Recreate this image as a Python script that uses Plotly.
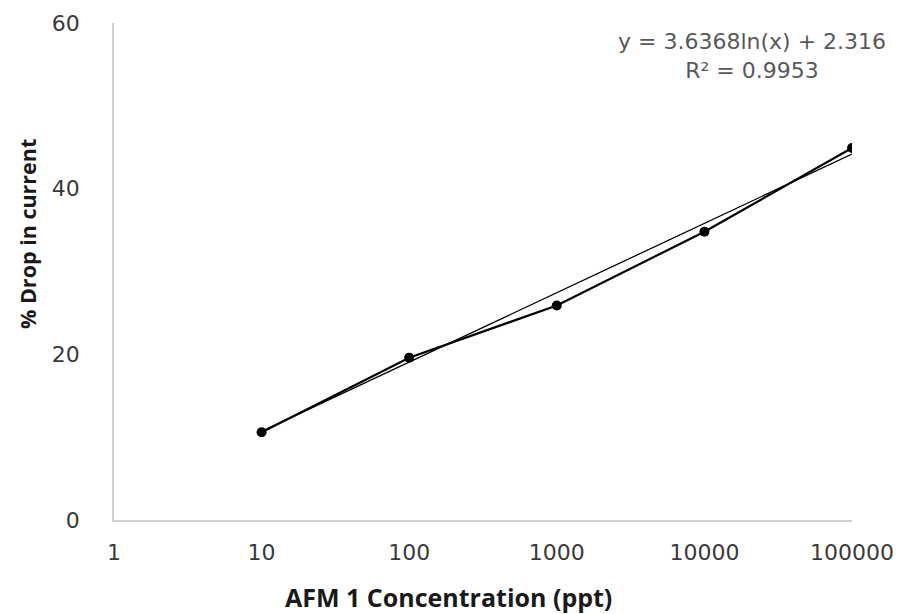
import numpy as np
import plotly.graph_objects as go

conc = [10, 100, 1000, 10000, 100000]
drop = [10.6, 19.6, 25.9, 34.8, 44.9]
coef_a = 3.6368
coef_b = 2.316
r2 = 0.9953
x_ticks = [1, 10, 100, 1000, 10000, 100000]
y_ticks = [0, 20, 40, 60]

trend_x = np.array(conc, dtype=float)
trend_y = coef_a * np.log(trend_x) + coef_b

fig = go.Figure()
fig.add_trace(go.Scatter(x=trend_x, y=trend_y, mode="lines",
                         line=dict(color="black", width=1.3), showlegend=False))
fig.add_trace(go.Scatter(x=conc, y=drop, mode="lines+markers",
                         line=dict(color="black", width=2.2),
                         marker=dict(color="black", size=10), showlegend=False))

tickfont = dict(family="DejaVu Sans", size=22, color="#3a3a3a")
fig.update_layout(
    width=901, height=614,
    margin=dict(l=114, r=49, t=23, b=94),
    paper_bgcolor="white", plot_bgcolor="white",
    xaxis=dict(type="log", range=[0, 5], tickvals=x_ticks, automargin=False,
               ticktext=[str(v) for v in x_ticks], showgrid=False,
               showline=True, linecolor="#d0d0d0", linewidth=1.5,
               zeroline=False, tickfont=tickfont, ticklabelstandoff=12),
    yaxis=dict(range=[0, 60], tickvals=y_ticks, showgrid=False, automargin=False,
               showline=True, linecolor="#d0d0d0", linewidth=1.5,
               zeroline=False, tickfont=tickfont, ticklabelstandoff=28),
    annotations=[
        dict(text=f"y = {coef_a}ln(x) + {coef_b}<br>R² = {r2}",
             xref="paper", yref="paper", x=(752 - 114) / 738, y=1 - 4 / 497,
             xanchor="center", yanchor="top", showarrow=False, align="center",
             font=dict(family="DejaVu Sans", size=22, color="#595959")),
        dict(text="<b>AFM 1 Concentration (ppt)</b>", xref="paper", yref="paper",
             x=(448 - 114) / 738, y=-(597 - 520) / 497, xanchor="center",
             yanchor="middle", showarrow=False,
             font=dict(family="Open Sans", size=25, color="#1a1a1a")),
        dict(text="<b>% Drop in current</b>", xref="paper", yref="paper",
             x=(27 - 114) / 738, y=(520 - 234) / 497, xanchor="center",
             yanchor="middle", showarrow=False, textangle=-90,
             font=dict(family="Open Sans", size=21.5, color="#1a1a1a")),
    ],
)
fig.write_html("out.html")
